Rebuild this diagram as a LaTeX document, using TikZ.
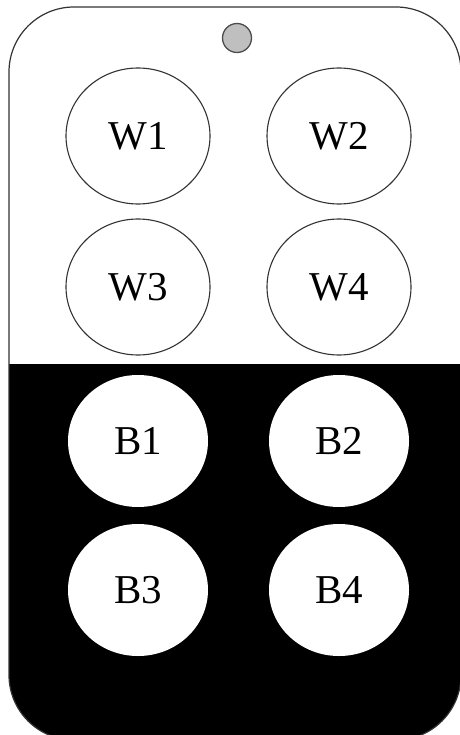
\documentclass[tikz,border=0pt]{standalone}
\usepackage{fontspec}
\setmainfont{Liberation Serif}
\usepackage{tikz}
\usetikzlibrary{shapes.geometric}
\usetikzlibrary{positioning}
\tikzset{%
  button/.style={ellipse, inner sep=0pt, minimum width=144pt, minimum height=136pt,
    font=\fontsize{41}{41}\selectfont},
  white button/.style={button, draw=black!80, line width=1.1pt, fill=white},
  black button/.style={button, fill=white, minimum width=140pt, minimum height=132pt},
  led/.style={circle, inner sep=0pt, minimum size=29pt, fill=black!25, draw=black!70, line width=1.3pt}
}

\begin{document}
\begin{tikzpicture}[x=1pt, y=-1pt]
    % \draw[help lines, gray] (0, 0) grid[step=50] (459, 735);
    \useasboundingbox (0, 0) rectangle (459, 735);
    \fill[white] (0, 0) rectangle (459, 735);

    % lower half of the case is black
    \begin{scope}
      \clip[rounded corners=65pt] (9, 7) rectangle (461, 740);
      \fill[black] (0, 364) rectangle (470, 750);
    \end{scope}
    \draw[black!80, line width=1.2pt, rounded corners=65pt] (9, 7) rectangle (461, 740);

    \node[led] (led) at (237, 38) {};

    \node[white button] (w1) at (138, 136) {W1};
    \node[white button] (w2) at (339, 136) {W2};
    \node[white button] (w3) at (138, 287) {W3};
    \node[white button] (w4) at (339, 287) {W4};

    \node[black button] (b1) at (138, 441) {B1};
    \node[black button] (b2) at (339, 441) {B2};
    \node[black button] (b3) at (138, 590) {B3};
    \node[black button] (b4) at (339, 590) {B4};
  \end{tikzpicture}
\end{document}
